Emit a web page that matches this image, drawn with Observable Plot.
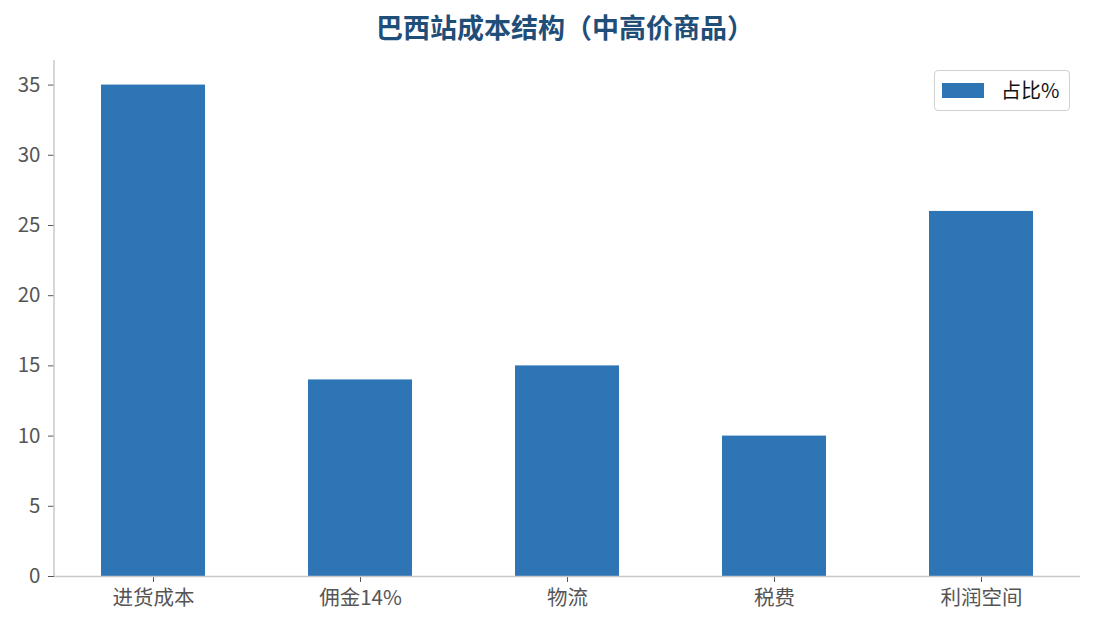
<!DOCTYPE html>
<html>
<head>
<meta charset="utf-8">
<script src="https://cdn.jsdelivr.net/npm/d3@7"></script>
<script src="https://cdn.jsdelivr.net/npm/@observablehq/plot@0.6"></script>
<style>
  body { margin: 0; background: #fff; font-family: "Noto Sans CJK SC", "Noto Sans", sans-serif; }
  #wrap { position: relative; width: 1095px; height: 629px; }
  #title { position: absolute; top: 8px; left: 565px; transform: translateX(-50%); white-space: nowrap;
    font-size: 27px; font-weight: bold; color: #1f4e79; line-height: 38px; }
  #chart { position: absolute; top: 50px; left: 0; }
  #legend { position: absolute; left: 934px; top: 70px; width: 136px; height: 41px; border: 1.5px solid #d0d0d0;
    border-radius: 4px; background: #fff; box-sizing: border-box; }
  #legend .sw { position: absolute; left: 7px; top: 12px; width: 42px; height: 15px; background: #2e75b6; }
  #legend .lb { position: absolute; left: 66px; top: 6px; font-size: 20px; line-height: 26px; color: #111; }
</style>
</head>
<body>
<div id="wrap">
  <div id="title">巴西站成本结构（中高价商品）</div>
  <div id="chart"></div>
  <div id="legend"><div class="sw"></div><div class="lb">占比%</div></div>
</div>
<script>
const categories = ["进货成本", "佣金14%", "物流", "税费", "利润空间"];
const shares = [35, 14, 15, 10, 26];
const yTicks = [0, 5, 10, 15, 20, 25, 30, 35];

const data = categories.map((c, i) => ({category: c, value: shares[i]}));

const plot = Plot.plot({
  width: 1095,
  height: 579,
  marginTop: 10,
  marginBottom: 53,
  marginLeft: 54,
  marginRight: 15,
  style: {fontFamily: '"Noto Sans CJK SC", "Noto Sans", sans-serif', fontSize: "20.5px", color: "#555", background: "#fff"},
  x: {domain: categories, paddingInner: 0.5, paddingOuter: 0.225, label: null},
  y: {domain: [0, 36.75], label: null},
  marks: [
    Plot.barY(data, {x: "category", y: "value", fill: "#2e75b6"}),
    Plot.axisY({ticks: yTicks, tickSize: 6, tickPadding: 8, stroke: "#555", fill: "#555", label: null}),
    Plot.axisX({tickSize: 6, tickPadding: 8, stroke: "#555", fill: "#555", label: null}),
    Plot.ruleY([0], {stroke: "#c8c8c8", strokeWidth: 1.5})
  ]
});
document.getElementById("chart").appendChild(plot);

// left spine
const ys = plot.scale("y").range;
d3.select(plot).append("line")
  .attr("x1", 54).attr("x2", 54)
  .attr("y1", ys[0]).attr("y2", ys[1])
  .attr("stroke", "#c8c8c8").attr("stroke-width", 1.5);
</script>
</body>
</html>
